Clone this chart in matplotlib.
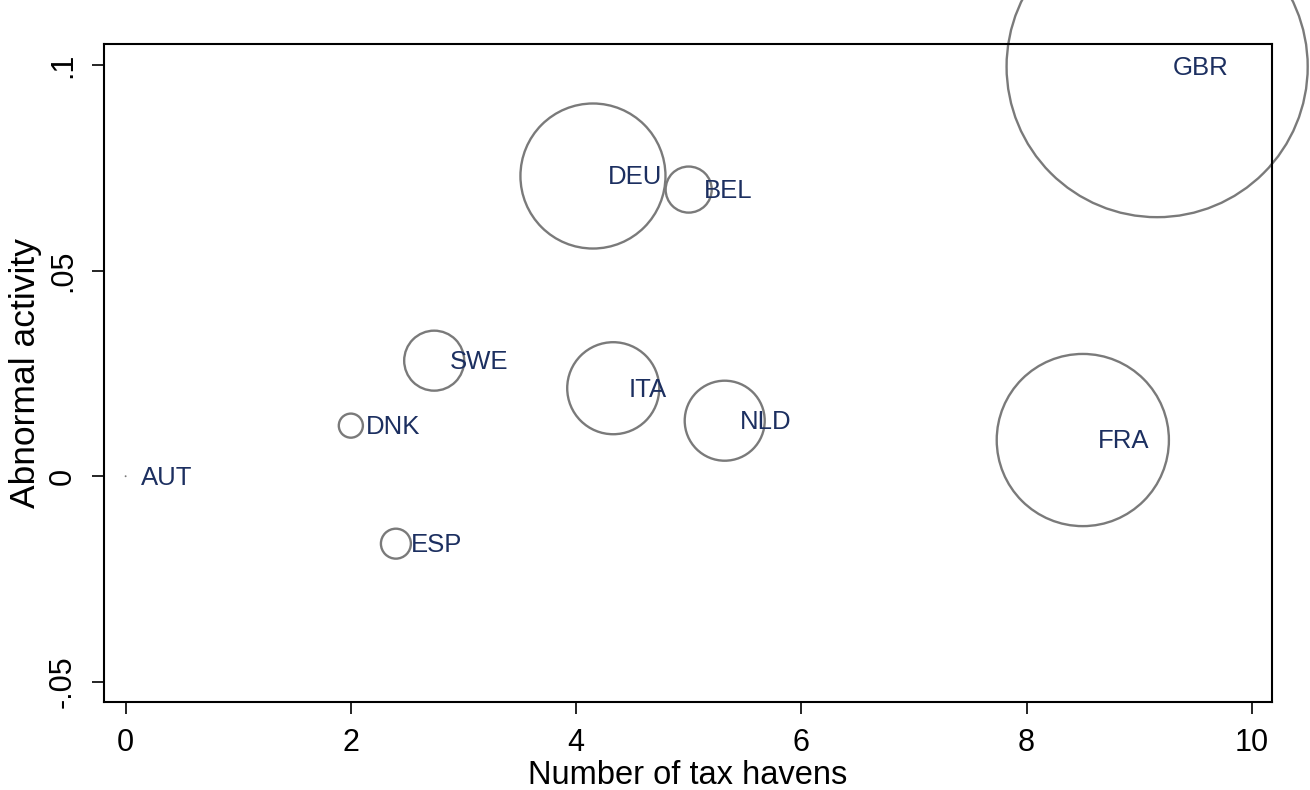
import numpy as np
import matplotlib
matplotlib.use("Agg")
import matplotlib.pyplot as plt

plt.rcParams['font.family'] = ['Liberation Sans', 'DejaVu Sans']

# country data
countries = ['GBR', 'DEU', 'BEL', 'SWE', 'ITA', 'NLD', 'FRA', 'DNK', 'ESP', 'AUT']
n_havens = [9.16, 4.15, 5.00, 2.74, 4.33, 5.32, 8.50, 2.00, 2.40, 0.00]
abnormal = [0.0996, 0.0730, 0.0697, 0.0281, 0.0214, 0.0135, 0.0088, 0.0123, -0.0164, 0.0]
# bubble weight (area), GBR = 100
weight = [100, 23.2, 2.34, 3.97, 9.34, 7.06, 32.7, 0.64, 0.99, 0.001]

xticks = [0, 2, 4, 6, 8, 10]
yticks = [-0.05, 0, 0.05, 0.1]
ytick_labels = ['-.05', '0', '.05', '.1']

fig = plt.figure(figsize=(13.1, 7.9), dpi=100, facecolor='w')
ax = fig.add_axes([104/1310, 88/790, 1168/1310, 658/790])

sizes = np.array(weight) * 470
lws = np.minimum(1.7, np.sqrt(sizes))
ax.scatter(n_havens, abnormal, s=sizes, facecolors='none', edgecolors='#7a7a7a',
           linewidths=lws, clip_on=False, zorder=2)

for name, x, y in zip(countries, n_havens, abnormal):
    ax.annotate(name, (x, y), xytext=(11, -1), textcoords='offset points',
                ha='left', va='center', fontsize=18.5, color='#1c2f60',
                annotation_clip=False, zorder=3)

ax.set_xlim(-0.192, 10.18)
ax.set_ylim(-0.0549, 0.1051)
ax.set_xticks(xticks)
ax.set_yticks(yticks)
ax.set_yticklabels(ytick_labels, rotation=90, va='center')

for s in ax.spines.values():
    s.set_linewidth(1.5)
ax.tick_params(length=8.8, width=1.2, labelsize=22, pad=10)

ax.set_xlabel('Number of tax havens', fontsize=23.5, labelpad=1)
ax.set_ylabel('Abnormal activity', fontsize=25.5, labelpad=4)

fig.savefig('out.png', dpi=100, facecolor='w')
